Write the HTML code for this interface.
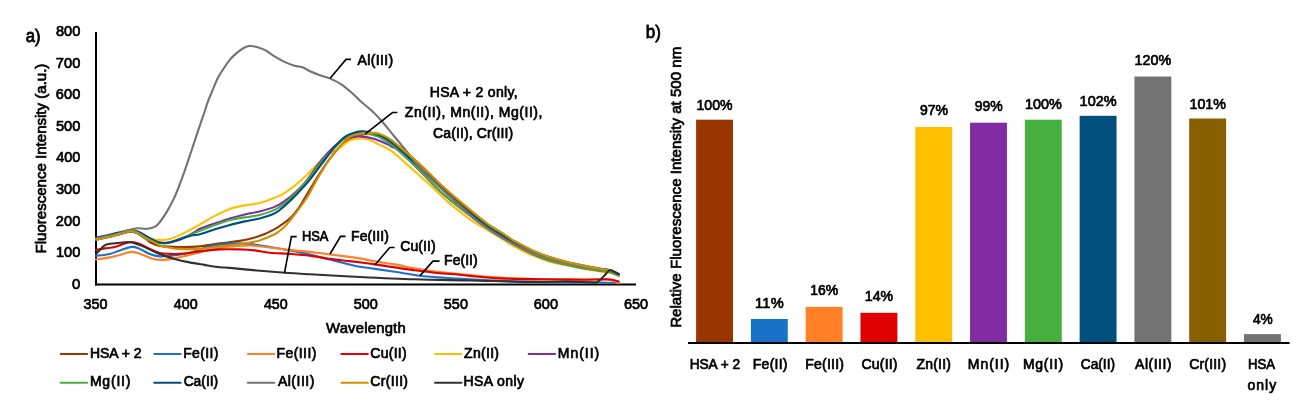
<!DOCTYPE html><html><head><meta charset="utf-8"><style>html,body{margin:0;padding:0;background:#fff;}svg{display:block;will-change:transform;}text{font-family:"Liberation Sans",sans-serif;white-space:pre;}</style></head><body>
<svg width="1306" height="406" viewBox="0 0 1306 406">
<rect width="1306" height="406" fill="#fff"/>
<rect x="696.10" y="119.70" width="36.90" height="223.30" fill="#993600"/>
<rect x="750.89" y="319.00" width="36.90" height="24.00" fill="#1A72C8"/>
<rect x="805.68" y="306.90" width="36.90" height="36.10" fill="#FF8026"/>
<rect x="860.47" y="312.80" width="36.90" height="30.20" fill="#E00000"/>
<rect x="915.26" y="127.00" width="36.90" height="216.00" fill="#FFC000"/>
<rect x="970.05" y="122.70" width="36.90" height="220.30" fill="#812CA3"/>
<rect x="1024.84" y="119.70" width="36.90" height="223.30" fill="#46AF3D"/>
<rect x="1079.63" y="115.80" width="36.90" height="227.20" fill="#004F7C"/>
<rect x="1134.42" y="76.50" width="36.90" height="266.50" fill="#737373"/>
<rect x="1189.21" y="118.50" width="36.90" height="224.50" fill="#875E00"/>
<rect x="1244.00" y="334.10" width="36.90" height="8.90" fill="#737373"/>
<line x1="688" y1="343" x2="1289.6" y2="343" stroke="#000" stroke-width="2"/>
<line x1="96" y1="32" x2="96" y2="285.4" stroke="#000" stroke-width="2"/>
<line x1="95" y1="284.4" x2="636" y2="284.4" stroke="#000" stroke-width="2"/>
<path d="M96.00,239.80 C97.33,239.50 101.25,238.60 104.00,238.00 C106.75,237.40 109.67,236.90 112.50,236.20 C115.33,235.50 118.13,234.57 121.00,233.80 C123.87,233.03 127.02,231.73 129.70,231.60 C132.38,231.47 134.33,231.77 137.10,233.00 C139.87,234.23 144.15,237.47 146.30,239.00 C148.45,240.53 147.72,241.05 150.00,242.20 C152.28,243.35 155.02,245.08 160.00,245.90 C164.98,246.72 173.27,247.02 179.90,247.10 C186.53,247.18 193.17,247.02 199.80,246.40 C206.43,245.78 213.07,244.32 219.70,243.40 C226.33,242.48 234.22,241.75 239.60,240.90 C244.98,240.05 247.82,239.45 252.00,238.30 C256.18,237.15 261.37,235.30 264.70,234.00 C268.03,232.70 269.45,231.87 272.00,230.50 C274.55,229.13 276.75,228.07 280.00,225.80 C283.25,223.53 288.25,220.05 291.50,216.90 C294.75,213.75 297.00,210.55 299.50,206.90 C302.00,203.25 303.82,199.48 306.50,195.00 C309.18,190.52 313.02,184.17 315.60,180.00 C318.18,175.83 319.60,173.62 322.00,170.00 C324.40,166.38 327.00,162.13 330.00,158.30 C333.00,154.47 336.67,150.22 340.00,147.00 C343.33,143.78 346.67,141.00 350.00,139.00 C353.33,137.00 356.67,135.83 360.00,135.00 C363.33,134.17 366.67,133.97 370.00,134.00 C373.33,134.03 376.67,134.20 380.00,135.20 C383.33,136.20 386.67,137.95 390.00,140.00 C393.33,142.05 396.25,144.50 400.00,147.50 C403.75,150.50 408.42,154.38 412.50,158.00 C416.58,161.62 419.83,164.65 424.50,169.20 C429.17,173.75 434.18,179.30 440.50,185.30 C446.82,191.30 454.77,198.82 462.40,205.20 C470.03,211.58 481.03,219.73 486.30,223.60 C491.57,227.47 491.58,226.90 494.00,228.40 C496.42,229.90 498.43,231.10 500.80,232.60 C503.17,234.10 506.00,235.99 508.20,237.41 C510.40,238.83 510.03,238.94 514.00,241.10 C517.97,243.26 526.00,247.69 532.00,250.40 C538.00,253.11 544.00,255.37 550.00,257.34 C556.00,259.31 562.00,260.79 568.00,262.24 C574.00,263.69 580.50,264.96 586.00,266.05 C591.50,267.14 597.03,268.11 601.00,268.80 C604.97,269.49 606.85,269.28 609.80,270.20 C612.75,271.12 617.22,273.62 618.70,274.30" fill="none" stroke="#993600" stroke-width="2.10" stroke-linejoin="round" stroke-linecap="round"/>
<path d="M96.00,255.90 C98.32,255.57 105.92,254.82 109.90,253.90 C113.88,252.98 116.25,251.57 119.90,250.40 C123.55,249.23 128.48,247.15 131.80,246.90 C135.12,246.65 136.82,247.73 139.80,248.90 C142.78,250.07 146.38,252.65 149.70,253.90 C153.02,255.15 156.38,256.07 159.70,256.40 C163.02,256.73 164.63,256.48 169.60,255.90 C174.57,255.32 182.82,254.48 189.50,252.90 C196.18,251.32 202.95,247.95 209.70,246.40 C216.45,244.85 223.30,244.00 230.00,243.60 C236.70,243.20 243.27,243.43 249.90,244.00 C256.53,244.57 263.17,245.93 269.80,247.00 C276.43,248.07 283.07,249.17 289.70,250.40 C296.33,251.63 302.97,252.90 309.60,254.40 C316.23,255.90 322.87,257.73 329.50,259.40 C336.13,261.07 344.32,263.17 349.40,264.40 C354.48,265.63 355.75,266.05 360.00,266.80 C364.25,267.55 369.10,268.07 374.90,268.90 C380.70,269.73 387.33,270.65 394.80,271.80 C402.27,272.95 411.40,274.80 419.70,275.80 C428.00,276.80 436.22,277.20 444.60,277.80 C452.98,278.40 460.78,278.88 470.00,279.40 C479.22,279.92 489.95,280.52 499.90,280.90 C509.85,281.28 519.68,281.47 529.70,281.70 C539.72,281.93 548.28,282.17 560.00,282.30 C571.72,282.43 590.22,282.38 600.00,282.50 C609.78,282.62 615.58,282.92 618.70,283.00" fill="none" stroke="#1A72C8" stroke-width="2.10" stroke-linejoin="round" stroke-linecap="round"/>
<path d="M96.00,259.40 C98.32,259.07 105.92,258.15 109.90,257.40 C113.88,256.65 116.25,255.82 119.90,254.90 C123.55,253.98 128.17,251.98 131.80,251.90 C135.43,251.82 138.38,253.32 141.70,254.40 C145.02,255.48 148.38,257.48 151.70,258.40 C155.02,259.32 157.78,259.90 161.60,259.90 C165.42,259.90 169.95,259.23 174.60,258.40 C179.25,257.57 183.65,256.32 189.50,254.90 C195.35,253.48 203.02,251.25 209.70,249.90 C216.38,248.55 222.90,247.53 229.60,246.80 C236.30,246.07 243.20,245.38 249.90,245.50 C256.60,245.62 263.17,246.77 269.80,247.50 C276.43,248.23 283.07,249.17 289.70,249.90 C296.33,250.63 302.97,251.15 309.60,251.90 C316.23,252.65 322.87,253.57 329.50,254.40 C336.13,255.23 344.32,256.23 349.40,256.90 C354.48,257.57 355.75,257.65 360.00,258.40 C364.25,259.15 369.10,260.40 374.90,261.40 C380.70,262.40 388.17,263.23 394.80,264.40 C401.43,265.57 408.07,267.22 414.70,268.40 C421.33,269.58 427.97,270.65 434.60,271.50 C441.23,272.35 446.10,272.67 454.50,273.50 C462.90,274.33 472.42,275.62 485.00,276.50 C497.58,277.38 513.67,278.30 530.00,278.80 C546.33,279.30 570.00,279.33 583.00,279.50 C596.00,279.67 602.05,279.18 608.00,279.80 C613.95,280.42 616.92,282.63 618.70,283.20" fill="none" stroke="#FF8026" stroke-width="2.10" stroke-linejoin="round" stroke-linecap="round"/>
<path d="M96.00,249.90 C97.48,249.65 101.75,248.90 104.90,248.40 C108.05,247.90 111.58,247.72 114.90,246.90 C118.22,246.08 121.98,244.32 124.80,243.50 C127.62,242.68 129.30,241.92 131.80,242.00 C134.30,242.08 136.82,242.85 139.80,244.00 C142.78,245.15 146.38,247.42 149.70,248.90 C153.02,250.38 156.38,252.07 159.70,252.90 C163.02,253.73 166.23,253.73 169.60,253.90 C172.97,254.07 176.58,254.07 179.90,253.90 C183.22,253.73 186.18,253.32 189.50,252.90 C192.82,252.48 194.77,251.98 199.80,251.40 C204.83,250.82 213.07,249.73 219.70,249.40 C226.33,249.07 233.73,249.23 239.60,249.40 C245.47,249.57 249.87,249.85 254.90,250.40 C259.93,250.95 264.00,252.12 269.80,252.70 C275.60,253.28 283.07,253.40 289.70,253.90 C296.33,254.40 302.97,254.87 309.60,255.70 C316.23,256.53 322.87,258.00 329.50,258.90 C336.13,259.80 344.32,260.52 349.40,261.10 C354.48,261.68 355.75,261.85 360.00,262.40 C364.25,262.95 369.10,263.57 374.90,264.40 C380.70,265.23 388.17,266.42 394.80,267.40 C401.43,268.38 408.07,269.40 414.70,270.30 C421.33,271.20 427.97,272.13 434.60,272.80 C441.23,273.47 448.60,273.78 454.50,274.30 C460.40,274.82 462.43,275.22 470.00,275.90 C477.57,276.58 489.95,277.87 499.90,278.40 C509.85,278.93 519.75,278.92 529.70,279.10 C539.65,279.28 550.68,279.40 559.60,279.50 C568.52,279.60 575.13,279.73 583.20,279.70 C591.27,279.67 602.08,279.00 608.00,279.30 C613.92,279.60 616.92,281.13 618.70,281.50" fill="none" stroke="#E00000" stroke-width="2.10" stroke-linejoin="round" stroke-linecap="round"/>
<path d="M96.00,239.20 C97.33,238.92 101.25,238.10 104.00,237.50 C106.75,236.90 109.67,236.28 112.50,235.60 C115.33,234.92 118.13,234.12 121.00,233.40 C123.87,232.68 127.02,231.43 129.70,231.30 C132.38,231.17 134.88,231.90 137.10,232.60 C139.32,233.30 140.57,234.45 143.00,235.50 C145.43,236.55 148.92,238.17 151.70,238.90 C154.48,239.63 156.67,239.90 159.70,239.90 C162.73,239.90 166.53,239.72 169.90,238.90 C173.27,238.08 176.58,236.48 179.90,235.00 C183.22,233.52 186.45,231.77 189.80,230.00 C193.15,228.23 195.82,226.75 200.00,224.40 C204.18,222.05 209.92,218.48 214.90,215.90 C219.88,213.32 224.92,210.65 229.90,208.90 C234.88,207.15 239.83,206.38 244.80,205.40 C249.77,204.42 255.23,204.07 259.70,203.00 C264.17,201.93 267.42,200.70 271.60,199.00 C275.78,197.30 280.78,195.15 284.80,192.80 C288.82,190.45 291.88,188.05 295.70,184.90 C299.52,181.75 303.72,177.72 307.70,173.90 C311.68,170.08 315.88,165.40 319.60,162.00 C323.32,158.60 326.62,155.85 330.00,153.50 C333.38,151.15 336.58,150.08 339.90,147.90 C343.22,145.72 346.25,141.98 349.90,140.40 C353.55,138.82 358.48,138.48 361.80,138.40 C365.12,138.32 366.82,138.82 369.80,139.90 C372.78,140.98 376.38,143.25 379.70,144.90 C383.02,146.55 386.48,147.75 389.70,149.80 C392.92,151.85 395.75,154.43 399.00,157.20 C402.25,159.97 404.03,161.77 409.20,166.40 C414.37,171.03 423.55,179.08 430.00,185.00 C436.45,190.92 441.23,196.18 447.90,201.90 C454.57,207.62 463.23,214.52 470.00,219.30 C476.77,224.08 483.37,227.48 488.50,230.60 C493.63,233.72 497.22,235.77 500.80,238.00 C504.38,240.23 505.13,241.23 510.00,243.96 C514.87,246.69 523.67,251.54 530.00,254.40 C536.33,257.26 542.00,259.31 548.00,261.13 C554.00,262.95 560.00,264.00 566.00,265.31 C572.00,266.62 578.17,267.95 584.00,269.00 C589.83,270.05 596.70,270.98 601.00,271.60 C605.30,272.22 606.85,272.07 609.80,272.70 C612.75,273.33 617.22,274.95 618.70,275.40" fill="none" stroke="#FFC000" stroke-width="2.10" stroke-linejoin="round" stroke-linecap="round"/>
<path d="M96.00,239.60 C97.33,239.30 101.25,238.40 104.00,237.80 C106.75,237.20 109.67,236.67 112.50,236.00 C115.33,235.33 118.13,234.52 121.00,233.80 C123.87,233.08 127.02,231.83 129.70,231.70 C132.38,231.57 134.33,231.78 137.10,233.00 C139.87,234.22 143.22,237.43 146.30,239.00 C149.38,240.57 153.37,241.77 155.60,242.40 C157.83,243.03 157.32,242.83 159.70,242.80 C162.08,242.77 166.53,242.68 169.90,242.20 C173.27,241.72 175.75,241.60 179.90,239.90 C184.05,238.20 191.45,233.85 194.80,232.00 C198.15,230.15 196.65,230.23 200.00,228.80 C203.35,227.37 209.92,225.13 214.90,223.40 C219.88,221.67 224.92,219.90 229.90,218.40 C234.88,216.90 239.83,215.57 244.80,214.40 C249.77,213.23 254.73,212.65 259.70,211.40 C264.67,210.15 270.45,208.63 274.60,206.90 C278.75,205.17 281.62,202.98 284.60,201.00 C287.58,199.02 289.15,198.02 292.50,195.00 C295.85,191.98 299.85,188.73 304.70,182.90 C309.55,177.07 316.88,165.90 321.60,160.00 C326.32,154.10 329.10,151.08 333.00,147.50 C336.90,143.92 340.53,140.35 345.00,138.50 C349.47,136.65 354.85,136.33 359.80,136.40 C364.75,136.47 370.05,137.57 374.70,138.90 C379.35,140.23 384.73,143.02 387.70,144.40 C390.67,145.78 390.87,146.30 392.50,147.20 C394.13,148.10 393.20,146.12 397.50,149.80 C401.80,153.48 411.45,162.60 418.30,169.30 C425.15,176.00 432.02,183.83 438.60,190.00 C445.18,196.17 451.18,201.00 457.80,206.30 C464.42,211.60 472.93,217.92 478.30,221.80 C483.67,225.68 486.25,227.18 490.00,229.60 C493.75,232.02 497.47,234.21 500.80,236.30 C504.13,238.39 505.13,239.39 510.00,242.15 C514.87,244.91 523.67,249.86 530.00,252.85 C536.33,255.84 542.00,258.13 548.00,260.07 C554.00,262.01 560.08,263.13 566.00,264.50 C571.92,265.87 577.67,267.25 583.50,268.30 C589.33,269.35 596.62,270.18 601.00,270.80 C605.38,271.42 606.85,271.20 609.80,272.00 C612.75,272.80 617.22,275.00 618.70,275.60" fill="none" stroke="#812CA3" stroke-width="2.10" stroke-linejoin="round" stroke-linecap="round"/>
<path d="M96.00,239.40 C97.33,239.12 101.25,238.30 104.00,237.70 C106.75,237.10 109.67,236.48 112.50,235.80 C115.33,235.12 118.13,234.32 121.00,233.60 C123.87,232.88 127.02,231.63 129.70,231.50 C132.38,231.37 134.33,231.58 137.10,232.80 C139.87,234.02 143.22,237.23 146.30,238.80 C149.38,240.37 153.32,241.50 155.60,242.20 C157.88,242.90 157.62,242.95 160.00,243.00 C162.38,243.05 164.93,243.83 169.90,242.50 C174.87,241.17 184.78,236.95 189.80,235.00 C194.82,233.05 195.72,232.50 200.00,230.80 C204.28,229.10 210.52,226.62 215.50,224.80 C220.48,222.98 225.02,221.13 229.90,219.90 C234.78,218.67 239.83,218.23 244.80,217.40 C249.77,216.57 254.73,216.15 259.70,214.90 C264.67,213.65 270.45,211.80 274.60,209.90 C278.75,208.00 281.37,205.98 284.60,203.50 C287.83,201.02 290.10,198.92 294.00,195.00 C297.90,191.08 303.17,185.83 308.00,180.00 C312.83,174.17 318.50,165.50 323.00,160.00 C327.50,154.50 331.33,150.70 335.00,147.00 C338.67,143.30 341.67,140.00 345.00,137.80 C348.33,135.60 352.00,134.57 355.00,133.80 C358.00,133.03 360.00,133.00 363.00,133.20 C366.00,133.40 370.22,134.30 373.00,135.00 C375.78,135.70 376.10,135.42 379.70,137.40 C383.30,139.38 391.47,144.75 394.60,146.90 C397.73,149.05 394.52,146.62 398.50,150.30 C402.48,153.98 411.78,162.42 418.50,169.00 C425.22,175.58 432.22,183.63 438.80,189.80 C445.38,195.97 451.38,200.70 458.00,206.00 C464.62,211.30 473.17,217.70 478.50,221.60 C483.83,225.50 486.28,226.98 490.00,229.40 C493.72,231.82 497.47,234.03 500.80,236.10 C504.13,238.17 505.13,239.14 510.00,241.85 C514.87,244.56 523.67,249.38 530.00,252.35 C536.33,255.32 542.00,257.69 548.00,259.67 C554.00,261.65 560.08,262.79 566.00,264.20 C571.92,265.61 577.67,267.03 583.50,268.10 C589.33,269.17 596.62,269.97 601.00,270.60 C605.38,271.23 606.85,271.10 609.80,271.90 C612.75,272.70 617.22,274.82 618.70,275.40" fill="none" stroke="#46AF3D" stroke-width="2.10" stroke-linejoin="round" stroke-linecap="round"/>
<path d="M96.00,237.70 C97.33,237.42 101.25,236.62 104.00,236.00 C106.75,235.38 109.67,234.67 112.50,234.00 C115.33,233.33 118.13,232.60 121.00,232.00 C123.87,231.40 126.78,230.43 129.70,230.40 C132.62,230.37 135.45,230.67 138.50,231.80 C141.55,232.93 144.92,235.57 148.00,237.20 C151.08,238.83 154.67,240.65 157.00,241.60 C159.33,242.55 159.85,242.77 162.00,242.90 C164.15,243.03 165.27,243.55 169.90,242.40 C174.53,241.25 184.78,237.35 189.80,236.00 C194.82,234.65 195.82,235.42 200.00,234.30 C204.18,233.18 209.92,230.87 214.90,229.30 C219.88,227.73 224.92,226.22 229.90,224.90 C234.88,223.58 239.83,222.48 244.80,221.40 C249.77,220.32 254.73,219.73 259.70,218.40 C264.67,217.07 270.45,215.48 274.60,213.40 C278.75,211.32 281.03,208.97 284.60,205.90 C288.17,202.83 291.82,199.33 296.00,195.00 C300.18,190.67 304.93,185.73 309.70,179.90 C314.47,174.07 320.40,165.50 324.60,160.00 C328.80,154.50 331.52,150.75 334.90,146.90 C338.28,143.05 341.58,139.32 344.90,136.90 C348.22,134.48 351.82,133.32 354.80,132.40 C357.78,131.48 359.82,131.32 362.80,131.40 C365.78,131.48 369.55,132.07 372.70,132.90 C375.85,133.73 378.05,134.40 381.70,136.40 C385.35,138.40 391.38,142.58 394.60,144.90 C397.82,147.22 398.28,147.88 401.00,150.30 C403.72,152.72 407.58,156.30 410.90,159.40 C414.22,162.50 416.38,164.63 420.90,168.90 C425.42,173.17 431.48,178.98 438.00,185.00 C444.52,191.02 452.55,198.75 460.00,205.00 C467.45,211.25 477.37,218.52 482.70,222.50 C488.03,226.48 488.98,226.93 492.00,228.90 C495.02,230.87 497.63,232.32 500.80,234.30 C503.97,236.28 505.97,237.98 511.00,240.78 C516.03,243.58 524.83,248.23 531.00,251.08 C537.17,253.93 542.17,255.98 548.00,257.87 C553.83,259.76 560.08,261.00 566.00,262.40 C571.92,263.80 577.67,265.20 583.50,266.30 C589.33,267.40 596.62,268.33 601.00,269.00 C605.38,269.67 606.85,269.42 609.80,270.30 C612.75,271.18 617.22,273.63 618.70,274.30" fill="none" stroke="#004F7C" stroke-width="2.10" stroke-linejoin="round" stroke-linecap="round"/>
<path d="M96.00,238.60 C97.67,238.23 102.67,237.13 106.00,236.40 C109.33,235.67 113.00,234.97 116.00,234.20 C119.00,233.43 121.72,232.53 124.00,231.80 C126.28,231.07 127.52,230.38 129.70,229.80 C131.88,229.22 134.12,228.47 137.10,228.30 C140.08,228.13 144.52,229.13 147.60,228.80 C150.68,228.47 153.55,227.43 155.60,226.30 C157.65,225.17 158.03,224.40 159.90,222.00 C161.77,219.60 164.50,215.75 166.80,211.90 C169.10,208.05 171.58,203.38 173.70,198.90 C175.82,194.42 177.50,190.17 179.50,185.00 C181.50,179.83 183.67,173.73 185.70,167.90 C187.73,162.07 189.53,156.50 191.70,150.00 C193.87,143.50 196.57,135.23 198.70,128.90 C200.83,122.57 202.98,116.50 204.50,112.00 C206.02,107.50 206.43,105.58 207.80,101.90 C209.17,98.22 211.02,93.92 212.70,89.90 C214.38,85.88 216.22,81.15 217.90,77.80 C219.58,74.45 220.82,72.78 222.80,69.80 C224.78,66.82 227.47,62.72 229.80,59.90 C232.13,57.08 234.48,54.88 236.80,52.90 C239.12,50.92 241.55,49.15 243.70,48.00 C245.85,46.85 247.37,46.13 249.70,46.00 C252.03,45.87 255.05,46.47 257.70,47.20 C260.35,47.93 262.78,48.87 265.60,50.40 C268.42,51.93 271.45,54.48 274.60,56.40 C277.75,58.32 281.18,60.35 284.50,61.90 C287.82,63.45 291.52,64.82 294.50,65.70 C297.48,66.58 299.82,66.28 302.40,67.20 C304.98,68.12 307.07,69.87 310.00,71.20 C312.93,72.53 316.72,74.00 320.00,75.20 C323.28,76.40 326.03,76.80 329.70,78.40 C333.37,80.00 338.10,82.20 342.00,84.80 C345.90,87.40 349.62,90.93 353.10,94.00 C356.58,97.07 359.82,100.43 362.90,103.20 C365.98,105.97 368.72,107.93 371.60,110.60 C374.48,113.27 376.47,114.97 380.20,119.20 C383.93,123.43 389.43,130.45 394.00,136.00 C398.57,141.55 403.12,147.02 407.60,152.50 C412.08,157.98 415.03,162.68 420.90,168.90 C426.77,175.12 436.28,183.70 442.80,189.80 C449.32,195.90 454.22,200.30 460.00,205.50 C465.78,210.70 472.33,216.75 477.50,221.00 C482.67,225.25 485.50,227.44 491.00,231.00 C496.50,234.56 504.00,238.97 510.50,242.36 C517.00,245.75 523.80,248.68 530.00,251.35 C536.20,254.02 541.78,256.46 547.70,258.37 C553.62,260.28 559.58,261.45 565.50,262.82 C571.42,264.19 577.30,265.52 583.20,266.60 C589.10,267.68 596.47,268.63 600.90,269.30 C605.33,269.97 606.83,269.72 609.80,270.60 C612.77,271.48 617.22,273.93 618.70,274.60" fill="none" stroke="#737373" stroke-width="2.10" stroke-linejoin="round" stroke-linecap="round"/>
<path d="M96.00,239.50 C97.33,239.22 101.25,238.40 104.00,237.80 C106.75,237.20 109.67,236.62 112.50,235.90 C115.33,235.18 118.13,234.28 121.00,233.50 C123.87,232.72 127.02,231.37 129.70,231.20 C132.38,231.03 134.33,231.33 137.10,232.50 C139.87,233.67 143.22,236.47 146.30,238.20 C149.38,239.93 153.32,241.68 155.60,242.90 C157.88,244.12 157.60,244.68 160.00,245.50 C162.40,246.32 166.68,247.23 170.00,247.80 C173.32,248.37 174.93,248.72 179.90,248.90 C184.87,249.08 193.17,249.32 199.80,248.90 C206.43,248.48 213.07,247.15 219.70,246.40 C226.33,245.65 232.97,245.40 239.60,244.40 C246.23,243.40 253.83,242.00 259.50,240.40 C265.17,238.80 270.18,236.45 273.60,234.80 C277.02,233.15 278.17,231.83 280.00,230.50 C281.83,229.17 282.18,229.40 284.60,226.80 C287.02,224.20 291.52,218.70 294.50,214.90 C297.48,211.10 300.17,207.32 302.50,204.00 C304.83,200.68 306.32,198.67 308.50,195.00 C310.68,191.33 313.35,186.00 315.60,182.00 C317.85,178.00 319.60,174.92 322.00,171.00 C324.40,167.08 327.02,162.67 330.00,158.50 C332.98,154.33 336.58,149.60 339.90,146.00 C343.22,142.40 346.58,138.92 349.90,136.90 C353.22,134.88 356.48,134.57 359.80,133.90 C363.12,133.23 366.48,132.90 369.80,132.90 C373.12,132.90 376.38,132.90 379.70,133.90 C383.02,134.90 386.38,136.73 389.70,138.90 C393.02,141.07 395.80,143.80 399.60,146.90 C403.40,150.00 408.28,153.83 412.50,157.50 C416.72,161.17 420.10,164.32 424.90,168.90 C429.70,173.48 434.73,179.00 441.30,185.00 C447.87,191.00 456.73,198.53 464.30,204.90 C471.87,211.27 481.75,219.35 486.70,223.20 C491.65,227.05 491.65,226.50 494.00,228.00 C496.35,229.50 498.43,230.68 500.80,232.20 C503.17,233.72 506.00,235.68 508.20,237.11 C510.40,238.54 510.03,238.64 514.00,240.80 C517.97,242.97 526.00,247.38 532.00,250.10 C538.00,252.82 544.00,255.13 550.00,257.15 C556.00,259.17 562.00,260.70 568.00,262.20 C574.00,263.70 580.50,265.01 586.00,266.14 C591.50,267.27 597.03,268.29 601.00,269.00 C604.97,269.71 608.33,270.17 609.80,270.40" fill="none" stroke="#CC9000" stroke-width="2.10" stroke-linejoin="round" stroke-linecap="round"/>
<path d="M96.00,253.90 C96.67,253.23 98.35,251.42 100.00,249.90 C101.65,248.38 102.58,245.98 105.90,244.80 C109.22,243.62 115.92,243.23 119.90,242.80 C123.88,242.37 126.48,241.83 129.80,242.20 C133.12,242.57 136.48,243.80 139.80,245.00 C143.12,246.20 146.38,247.92 149.70,249.40 C153.02,250.88 155.55,252.32 159.70,253.90 C163.85,255.48 169.63,257.48 174.60,258.90 C179.57,260.32 184.53,261.40 189.50,262.40 C194.47,263.40 199.32,264.08 204.40,264.90 C209.48,265.72 215.73,266.80 220.00,267.30 C224.27,267.80 223.35,267.32 230.00,267.90 C236.65,268.48 250.78,269.98 259.90,270.80 C269.02,271.62 276.42,272.22 284.70,272.80 C292.98,273.38 297.05,273.60 309.60,274.30 C322.15,275.00 342.48,276.17 360.00,277.00 C377.52,277.83 396.37,278.72 414.70,279.30 C433.03,279.88 450.78,280.07 470.00,280.50 C489.22,280.93 514.08,281.73 530.00,281.90 C545.92,282.07 555.33,281.43 565.50,281.50 C575.67,281.57 585.68,282.22 591.00,282.30 C596.32,282.38 595.23,283.05 597.40,282.00 C599.57,280.95 602.15,277.83 604.00,276.00 C605.85,274.17 607.33,271.95 608.50,271.00 C609.67,270.05 609.30,269.80 611.00,270.30 C612.70,270.80 617.42,273.38 618.70,274.00" fill="none" stroke="#362F2D" stroke-width="2.10" stroke-linejoin="round" stroke-linecap="round"/>
<polyline points="330.2,78.2 346.0,59.4 351.0,59.4" fill="none" stroke="#000" stroke-width="1.6"/>
<polyline points="365.3,133.9 392.5,112.5 397.4,112.5" fill="none" stroke="#000" stroke-width="1.6"/>
<polyline points="284.5,272.8 291.4,236.6 296.7,236.6" fill="none" stroke="#000" stroke-width="1.6"/>
<polyline points="330.0,254.0 340.6,236.4 345.6,236.4" fill="none" stroke="#000" stroke-width="1.6"/>
<polyline points="374.9,264.9 389.8,247.5 394.6,247.5" fill="none" stroke="#000" stroke-width="1.6"/>
<polyline points="419.9,275.9 432.9,261.1 439.6,261.1" fill="none" stroke="#000" stroke-width="1.6"/>
<line x1="60.6" y1="354.1" x2="87.1" y2="354.1" stroke="#993600" stroke-width="2" stroke-linecap="round"/>
<line x1="154.2" y1="354.1" x2="180.7" y2="354.1" stroke="#1A72C8" stroke-width="2" stroke-linecap="round"/>
<line x1="247.8" y1="354.1" x2="274.3" y2="354.1" stroke="#FF8026" stroke-width="2" stroke-linecap="round"/>
<line x1="341.4" y1="354.1" x2="367.9" y2="354.1" stroke="#E00000" stroke-width="2" stroke-linecap="round"/>
<line x1="435.0" y1="354.1" x2="461.5" y2="354.1" stroke="#FFC000" stroke-width="2" stroke-linecap="round"/>
<line x1="528.6" y1="354.1" x2="555.1" y2="354.1" stroke="#812CA3" stroke-width="2" stroke-linecap="round"/>
<line x1="60.6" y1="382.7" x2="87.1" y2="382.7" stroke="#46AF3D" stroke-width="2" stroke-linecap="round"/>
<line x1="154.2" y1="382.7" x2="180.7" y2="382.7" stroke="#004F7C" stroke-width="2" stroke-linecap="round"/>
<line x1="247.8" y1="382.7" x2="274.3" y2="382.7" stroke="#737373" stroke-width="2" stroke-linecap="round"/>
<line x1="341.4" y1="382.7" x2="367.9" y2="382.7" stroke="#CC9000" stroke-width="2" stroke-linecap="round"/>
<line x1="435.0" y1="382.7" x2="461.5" y2="382.7" stroke="#362F2D" stroke-width="2" stroke-linecap="round"/>
<text x="25.79" y="42.10" font-size="18.00" font-weight="normal" textLength="14.84" lengthAdjust="spacingAndGlyphs" stroke="#000" stroke-width="0.80">a)</text>
<text x="645.80" y="37.70" font-size="18.00" font-weight="normal" textLength="15.15" lengthAdjust="spacingAndGlyphs" stroke="#000" stroke-width="0.80">b)</text>
<text x="72.07" y="288.75" font-size="14.60" font-weight="normal" textLength="8.26" lengthAdjust="spacingAndGlyphs" stroke="#000" stroke-width="0.70">0</text>
<text x="55.94" y="257.15" font-size="14.60" font-weight="normal" textLength="24.38" lengthAdjust="spacing" stroke="#000" stroke-width="0.70">100</text>
<text x="55.82" y="225.55" font-size="14.60" font-weight="normal" textLength="24.50" lengthAdjust="spacing" stroke="#000" stroke-width="0.70">200</text>
<text x="55.99" y="193.95" font-size="14.60" font-weight="normal" textLength="24.32" lengthAdjust="spacingAndGlyphs" stroke="#000" stroke-width="0.70">300</text>
<text x="56.22" y="162.35" font-size="14.60" font-weight="normal" textLength="24.10" lengthAdjust="spacingAndGlyphs" stroke="#000" stroke-width="0.70">400</text>
<text x="55.97" y="130.75" font-size="14.60" font-weight="normal" textLength="24.35" lengthAdjust="spacingAndGlyphs" stroke="#000" stroke-width="0.70">500</text>
<text x="55.81" y="99.15" font-size="14.60" font-weight="normal" textLength="24.51" lengthAdjust="spacing" stroke="#000" stroke-width="0.70">600</text>
<text x="55.80" y="67.55" font-size="14.60" font-weight="normal" textLength="24.52" lengthAdjust="spacing" stroke="#000" stroke-width="0.70">700</text>
<text x="55.92" y="35.95" font-size="14.60" font-weight="normal" textLength="24.40" lengthAdjust="spacing" stroke="#000" stroke-width="0.70">800</text>
<text x="83.50" y="309.30" font-size="14.60" font-weight="normal" textLength="24.01" lengthAdjust="spacingAndGlyphs" stroke="#000" stroke-width="0.70">350</text>
<text x="173.82" y="309.30" font-size="14.60" font-weight="normal" textLength="23.78" lengthAdjust="spacingAndGlyphs" stroke="#000" stroke-width="0.70">400</text>
<text x="263.92" y="309.30" font-size="14.60" font-weight="normal" textLength="23.78" lengthAdjust="spacingAndGlyphs" stroke="#000" stroke-width="0.70">450</text>
<text x="353.77" y="309.30" font-size="14.60" font-weight="normal" textLength="24.04" lengthAdjust="spacingAndGlyphs" stroke="#000" stroke-width="0.70">500</text>
<text x="443.87" y="309.30" font-size="14.60" font-weight="normal" textLength="24.04" lengthAdjust="spacingAndGlyphs" stroke="#000" stroke-width="0.70">550</text>
<text x="533.81" y="309.30" font-size="14.60" font-weight="normal" textLength="24.20" lengthAdjust="spacingAndGlyphs" stroke="#000" stroke-width="0.70">600</text>
<text x="623.91" y="309.30" font-size="14.60" font-weight="normal" textLength="24.20" lengthAdjust="spacingAndGlyphs" stroke="#000" stroke-width="0.70">650</text>
<text x="325.98" y="333.40" font-size="14.80" font-weight="normal" textLength="79.73" lengthAdjust="spacing" stroke="#000" stroke-width="0.70">Wavelength</text>
<text transform="translate(46.00,252.60) rotate(-90)" x="-0.88" y="0" font-size="14.80" font-weight="normal" textLength="189.87" lengthAdjust="spacingAndGlyphs" stroke="#000" stroke-width="0.70">Fluorescence Intensity (a.u.)</text>
<text transform="translate(681.00,326.90) rotate(-90)" x="-0.89" y="0" font-size="14.60" font-weight="normal" textLength="281.03" lengthAdjust="spacingAndGlyphs" stroke="#000" stroke-width="0.70">Relative Fluorescence Intensity at 500 nm</text>
<text x="89.91" y="358.00" font-size="14.00" font-weight="normal" textLength="51.54" lengthAdjust="spacingAndGlyphs" stroke="#000" stroke-width="0.70">HSA + 2</text>
<text x="183.20" y="358.00" font-size="14.00" font-weight="normal" textLength="35.22" lengthAdjust="spacing" stroke="#000" stroke-width="0.70">Fe(II)</text>
<text x="276.50" y="358.00" font-size="14.00" font-weight="normal" textLength="39.92" lengthAdjust="spacing" stroke="#000" stroke-width="0.70">Fe(III)</text>
<text x="370.34" y="358.00" font-size="14.00" font-weight="normal" textLength="36.28" lengthAdjust="spacing" stroke="#000" stroke-width="0.70">Cu(II)</text>
<text x="464.11" y="358.00" font-size="14.00" font-weight="normal" textLength="34.91" lengthAdjust="spacing" stroke="#000" stroke-width="0.70">Zn(II)</text>
<text x="557.80" y="358.00" font-size="14.00" font-weight="normal" textLength="41.42" lengthAdjust="spacing" stroke="#000" stroke-width="0.70">Mn(II)</text>
<text x="89.90" y="386.40" font-size="14.00" font-weight="normal" textLength="40.52" lengthAdjust="spacing" stroke="#000" stroke-width="0.70">Mg(II)</text>
<text x="183.65" y="386.40" font-size="14.00" font-weight="normal" textLength="34.56" lengthAdjust="spacingAndGlyphs" stroke="#000" stroke-width="0.70">Ca(II)</text>
<text x="277.92" y="386.40" font-size="14.00" font-weight="normal" textLength="36.40" lengthAdjust="spacing" stroke="#000" stroke-width="0.70">Al(III)</text>
<text x="370.34" y="386.40" font-size="14.00" font-weight="normal" textLength="37.68" lengthAdjust="spacing" stroke="#000" stroke-width="0.70">Cr(III)</text>
<text x="463.40" y="386.40" font-size="14.00" font-weight="normal" textLength="60.68" lengthAdjust="spacing" stroke="#000" stroke-width="0.70">HSA only</text>
<text x="357.42" y="64.60" font-size="14.00" font-weight="normal" textLength="35.70" lengthAdjust="spacing" stroke="#000" stroke-width="0.70">Al(III)</text>
<text x="429.70" y="97.30" font-size="14.00" font-weight="normal" textLength="87.91" lengthAdjust="spacing" stroke="#000" stroke-width="0.70">HSA + 2 only,</text>
<text x="404.81" y="117.10" font-size="14.00" font-weight="normal" textLength="137.60" lengthAdjust="spacing" stroke="#000" stroke-width="0.70">Zn(II), Mn(II), Mg(II),</text>
<text x="433.04" y="137.60" font-size="14.00" font-weight="normal" textLength="80.18" lengthAdjust="spacing" stroke="#000" stroke-width="0.70">Ca(II), Cr(III)</text>
<text x="301.89" y="240.70" font-size="14.00" font-weight="normal" textLength="26.48" lengthAdjust="spacingAndGlyphs" stroke="#000" stroke-width="0.70">HSA</text>
<text x="351.00" y="240.70" font-size="14.00" font-weight="normal" textLength="37.92" lengthAdjust="spacing" stroke="#000" stroke-width="0.70">Fe(III)</text>
<text x="400.34" y="251.40" font-size="14.00" font-weight="normal" textLength="35.28" lengthAdjust="spacing" stroke="#000" stroke-width="0.70">Cu(II)</text>
<text x="444.05" y="264.80" font-size="14.00" font-weight="normal" textLength="33.57" lengthAdjust="spacing" stroke="#000" stroke-width="0.70">Fe(II)</text>
<text x="696.53" y="109.80" font-size="14.60" font-weight="normal" textLength="36.08" lengthAdjust="spacingAndGlyphs" stroke="#000" stroke-width="0.70">100%</text>
<text x="755.08" y="307.80" font-size="14.60" font-weight="normal" textLength="28.53" lengthAdjust="spacing" stroke="#000" stroke-width="0.70">11%</text>
<text x="810.17" y="295.30" font-size="14.60" font-weight="normal" textLength="27.96" lengthAdjust="spacingAndGlyphs" stroke="#000" stroke-width="0.70">16%</text>
<text x="864.79" y="301.00" font-size="14.60" font-weight="normal" textLength="28.28" lengthAdjust="spacingAndGlyphs" stroke="#000" stroke-width="0.70">14%</text>
<text x="919.90" y="115.40" font-size="14.60" font-weight="normal" textLength="28.06" lengthAdjust="spacingAndGlyphs" stroke="#000" stroke-width="0.70">97%</text>
<text x="974.69" y="111.40" font-size="14.60" font-weight="normal" textLength="28.06" lengthAdjust="spacingAndGlyphs" stroke="#000" stroke-width="0.70">99%</text>
<text x="1024.89" y="108.70" font-size="14.60" font-weight="normal" textLength="36.81" lengthAdjust="spacingAndGlyphs" stroke="#000" stroke-width="0.70">100%</text>
<text x="1079.58" y="105.90" font-size="14.60" font-weight="normal" textLength="37.02" lengthAdjust="spacingAndGlyphs" stroke="#000" stroke-width="0.70">102%</text>
<text x="1134.58" y="64.70" font-size="14.60" font-weight="normal" textLength="36.60" lengthAdjust="spacingAndGlyphs" stroke="#000" stroke-width="0.70">120%</text>
<text x="1189.48" y="108.50" font-size="14.60" font-weight="normal" textLength="36.39" lengthAdjust="spacingAndGlyphs" stroke="#000" stroke-width="0.70">101%</text>
<text x="1252.94" y="323.60" font-size="14.60" font-weight="normal" textLength="19.80" lengthAdjust="spacingAndGlyphs" stroke="#000" stroke-width="0.70">4%</text>
<text x="689.63" y="368.90" font-size="14.00" font-weight="normal" textLength="50.51" lengthAdjust="spacingAndGlyphs" stroke="#000" stroke-width="0.70">HSA + 2</text>
<text x="752.80" y="368.90" font-size="14.00" font-weight="normal" textLength="34.72" lengthAdjust="spacing" stroke="#000" stroke-width="0.70">Fe(II)</text>
<text x="805.20" y="368.90" font-size="14.00" font-weight="normal" textLength="38.72" lengthAdjust="spacing" stroke="#000" stroke-width="0.70">Fe(III)</text>
<text x="861.54" y="368.90" font-size="14.00" font-weight="normal" textLength="35.98" lengthAdjust="spacing" stroke="#000" stroke-width="0.70">Cu(II)</text>
<text x="916.41" y="368.90" font-size="14.00" font-weight="normal" textLength="34.61" lengthAdjust="spacing" stroke="#000" stroke-width="0.70">Zn(II)</text>
<text x="967.80" y="368.90" font-size="14.00" font-weight="normal" textLength="41.42" lengthAdjust="spacing" stroke="#000" stroke-width="0.70">Mn(II)</text>
<text x="1022.90" y="368.90" font-size="14.00" font-weight="normal" textLength="40.22" lengthAdjust="spacing" stroke="#000" stroke-width="0.70">Mg(II)</text>
<text x="1080.75" y="368.90" font-size="14.00" font-weight="normal" textLength="34.25" lengthAdjust="spacingAndGlyphs" stroke="#000" stroke-width="0.70">Ca(II)</text>
<text x="1135.12" y="368.90" font-size="14.00" font-weight="normal" textLength="36.30" lengthAdjust="spacing" stroke="#000" stroke-width="0.70">Al(III)</text>
<text x="1189.14" y="368.90" font-size="14.00" font-weight="normal" textLength="36.98" lengthAdjust="spacing" stroke="#000" stroke-width="0.70">Cr(III)</text>
<text x="1247.98" y="368.70" font-size="14.00" font-weight="normal" textLength="26.90" lengthAdjust="spacingAndGlyphs" stroke="#000" stroke-width="0.70">HSA</text>
<text x="1247.46" y="389.80" font-size="14.00" font-weight="normal" textLength="28.82" lengthAdjust="spacing" stroke="#000" stroke-width="0.70">only</text>
</svg></body></html>
